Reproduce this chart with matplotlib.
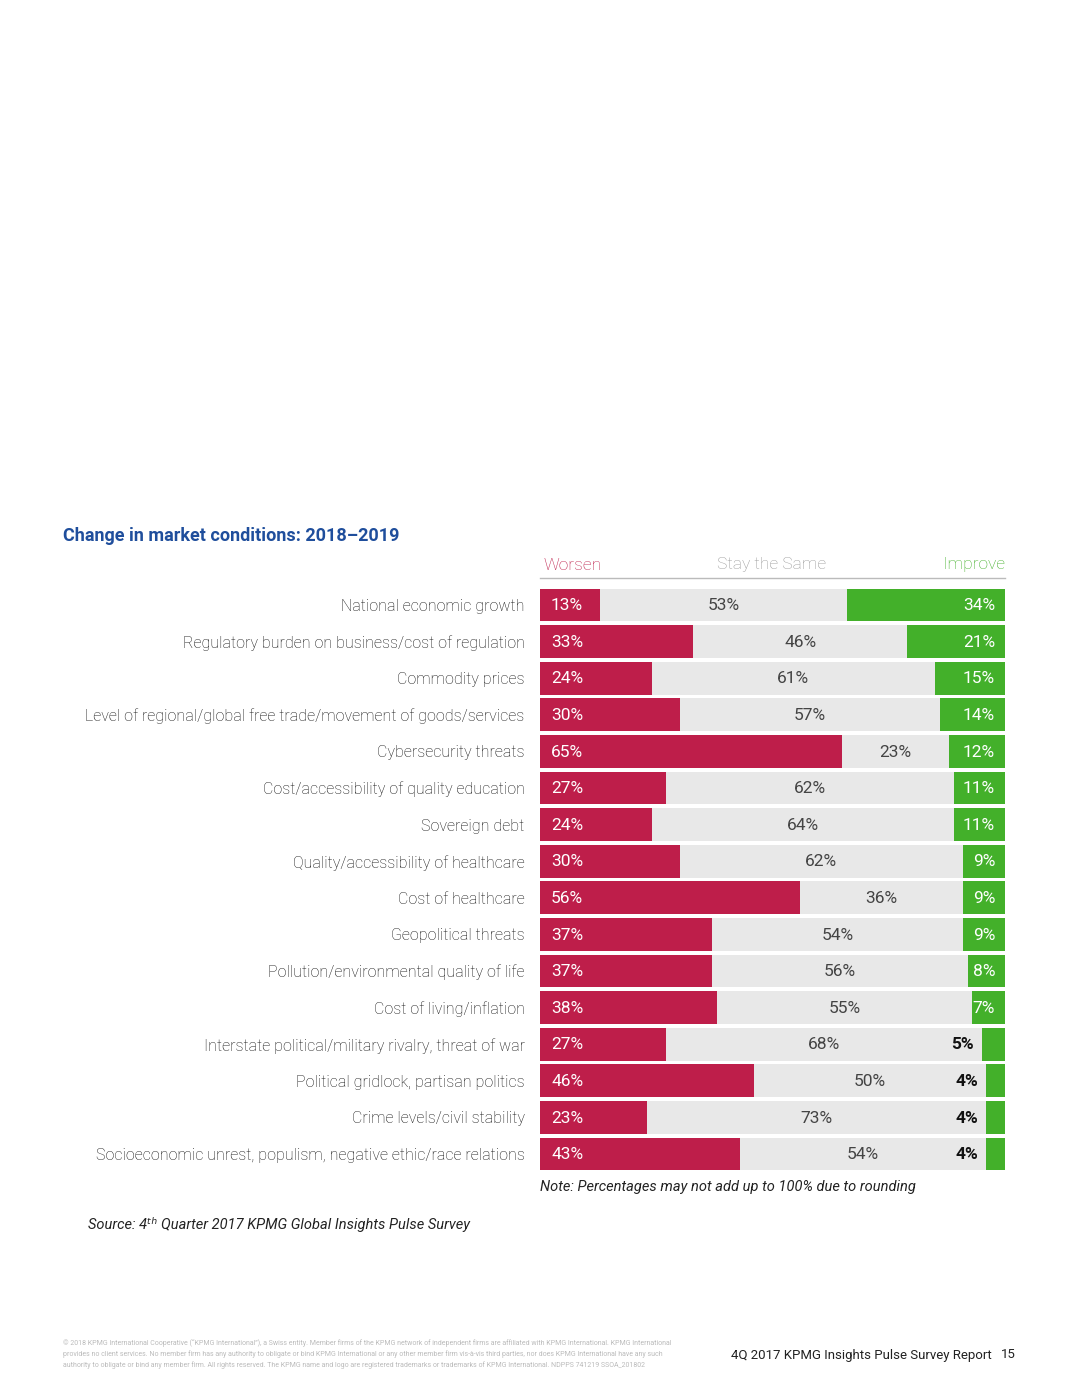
import matplotlib.pyplot as plt
import numpy as np

categories = [
    'National economic growth',
    'Regulatory burden on business/cost of regulation',
    'Commodity prices',
    'Level of regional/global free trade/movement of goods/services',
    'Cybersecurity threats',
    'Cost/accessibility of quality education',
    'Sovereign debt',
    'Quality/accessibility of healthcare',
    'Cost of healthcare',
    'Geopolitical threats',
    'Pollution/environmental quality of life',
    'Cost of living/inflation',
    'Interstate political/military rivalry, threat of war',
    'Political gridlock, partisan politics',
    'Crime levels/civil stability',
    'Socioeconomic unrest, populism, negative ethic/race relations',
]
worsen = [13, 33, 24, 30, 65, 27, 24, 30, 56, 37, 37, 38, 27, 46, 23, 43]
same = [53, 46, 61, 57, 23, 62, 64, 62, 36, 54, 56, 55, 68, 50, 73, 54]
improve = [34, 21, 15, 14, 12, 11, 11, 9, 9, 9, 8, 7, 5, 4, 4, 4]

RED = '#BE1E4A'
GREEN = '#43B02A'
GRAY = '#E8E8E8'
BLUE = '#1F4E9C'
plt.rcParams['font.family'] = ['Roboto', 'DejaVu Sans']

W, H = 1080, 1398
fig = plt.figure(figsize=(W / 100, H / 100), dpi=100)

def fx(px):
    return px / W

def fy(py):
    return 1 - py / H

top, bottom = 586.7, 1172.3
ax = fig.add_axes([fx(540), fy(bottom), fx(1005) - fx(540), (bottom - top) / H])

y = np.arange(len(categories))
w = np.array(worsen)
s = np.array(same)
imp = np.array(improve)
imp_left = 100 - imp

ax.barh(y, w, height=0.9, color=RED, left=0)
ax.barh(y, imp_left - w, height=0.9, color=GRAY, left=w)
ax.barh(y, imp, height=0.9, color=GREEN, left=imp_left)

ax.set_xlim(0, 100)
ax.set_ylim(len(categories) - 0.5, -0.5)
ax.set_yticks(y)
ax.set_yticklabels(categories, fontsize=11.5, color='#111111', fontweight='light')
ax.tick_params(axis='y', length=0, pad=11)
ax.set_xticks([])
for sp in ax.spines.values():
    sp.set_visible(False)

unit = 100 / 465.0  # data units per pixel
for i in range(len(categories)):
    ax.text(11 * unit, i + 0.02, f'{w[i]}%', color='white', fontsize=12.5,
            va='center', ha='left')
    ax.text((w[i] + imp_left[i]) / 2, i + 0.02, f'{s[i]}%', color='#444444',
            fontsize=12.5, va='center', ha='center')
    if imp[i] >= 7:
        ax.text(100 - 10 * unit, i + 0.02, f'{imp[i]}%', color='white', fontsize=12.5,
                va='center', ha='right')
    else:
        ax.text(imp_left[i] - 8 * unit, i + 0.02, f'{imp[i]}%', color='#111111',
                fontsize=12.5, va='center', ha='right', fontweight='bold')

# header
fig.text(fx(63), fy(536), 'Change in market conditions: 2018\u20132019', color=BLUE,
         fontsize=13, fontweight='bold', va='center', ha='left')
fig.text(fx(543), fy(565), 'Worsen', color=RED, fontsize=12.5, va='center', ha='left',
         fontweight='light')
fig.text(fx(772), fy(565), 'Stay the Same', color='#999999', fontsize=12.5, va='center',
         ha='center', fontweight='light')
fig.text(fx(1005), fy(565), 'Improve', color=GREEN, fontsize=12.5, va='center', ha='right',
         fontweight='light')
fig.add_artist(plt.Line2D([fx(540), fx(1005)], [fy(578), fy(578)], color='#BBBBBB', lw=1))

fig.text(fx(540), fy(1187), 'Note: Percentages may not add up to 100% due to rounding',
         fontsize=10.5, style='italic', color='#222222', va='center', ha='left')
fig.text(fx(88), fy(1225), 'Source: 4\u1d57\u02b0 Quarter 2017 KPMG Global Insights Pulse Survey',
         fontsize=10.5, style='italic', color='#222222', va='center', ha='left')

footer = ('\u00a9 2018 KPMG International Cooperative (\u201cKPMG International\u201d), a Swiss entity. '
          'Member firms of the KPMG network of independent firms are affiliated with KPMG International. '
          'KPMG International\nprovides no client services. No member firm has any authority to obligate '
          'or bind KPMG International or any other member firm vis-\u00e0-vis third parties, nor does KPMG '
          'International have any such\nauthority to obligate or bind any member firm. All rights reserved. '
          'The KPMG name and logo are registered trademarks or trademarks of KPMG International. '
          'NDPPS 741219 SSOA_201802')
fig.text(fx(63), fy(1354), footer, fontsize=5.0, color='#BBBBBB', va='center', ha='left',
         linespacing=1.5)
fig.text(fx(992), fy(1355), '4Q 2017 KPMG Insights Pulse Survey Report', fontsize=9.5,
         color='#222222', va='center', ha='right')
fig.text(fx(1016), fy(1355), '15', fontsize=9.5, color='#222222', va='center', ha='right')

fig.savefig('out.png', dpi=100, facecolor='white')
